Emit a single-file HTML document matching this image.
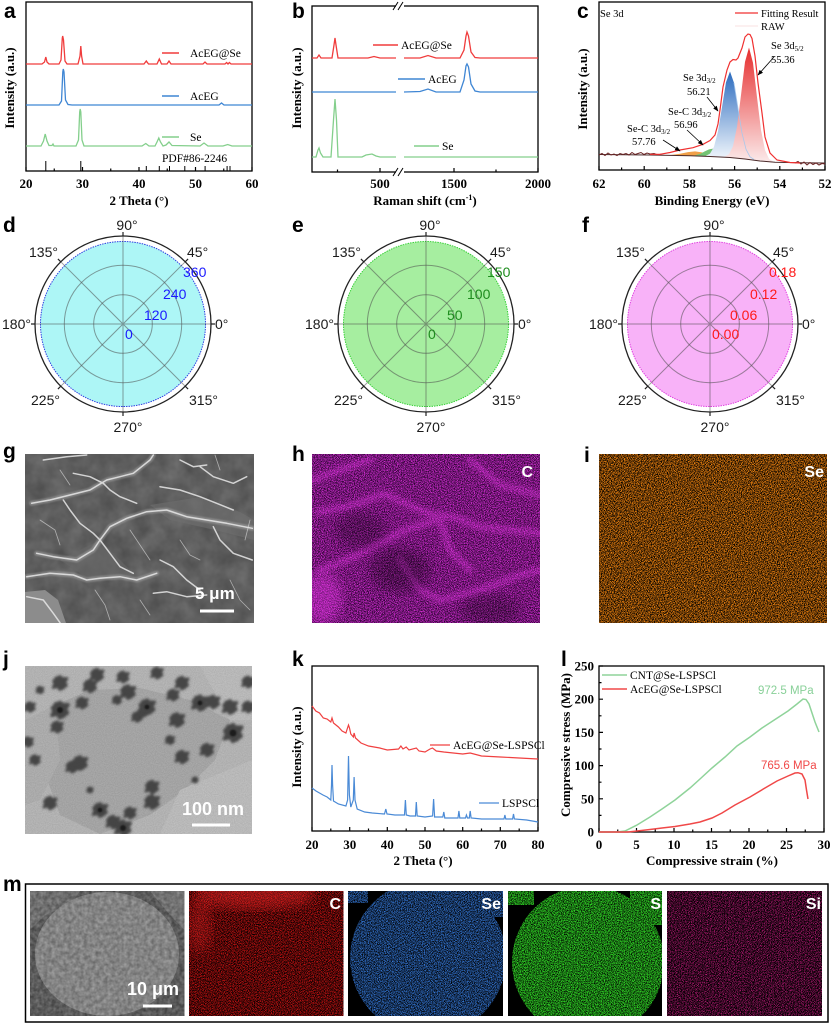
<!DOCTYPE html>
<html><head><meta charset="utf-8"><style>
html,body{margin:0;padding:0;background:#fff}
svg{display:block}
.t{font-family:"Liberation Serif",serif;font-weight:bold;font-size:13px}
.lg{font-family:"Liberation Serif",serif;font-size:11.5px}
.an{font-family:"Liberation Serif",serif;font-size:10.5px}
.p{font-family:"Liberation Sans",sans-serif;font-size:14px;fill:#1a1a1a}
.lab{font-family:"Liberation Sans",sans-serif;font-weight:bold;font-size:21px}
.wl{font-family:"Liberation Sans",sans-serif;font-weight:bold;fill:#fff}
</style></head><body>
<svg width="834" height="1024" viewBox="0 0 834 1024" xmlns="http://www.w3.org/2000/svg" xmlns:xlink="http://www.w3.org/1999/xlink">
<defs>
<filter id="nOr" x="0" y="0" width="1" height="1" color-interpolation-filters="sRGB"><feTurbulence type="fractalNoise" baseFrequency="1.3" numOctaves="1" seed="3"/><feColorMatrix values="0 0 0 0 0.95 0 0 0 0 0.52 0 0 0 0 0.06 5 0 0 0 -2.05"/></filter>
<filter id="nMg" x="0" y="0" width="1" height="1" color-interpolation-filters="sRGB"><feTurbulence type="fractalNoise" baseFrequency="1.3" numOctaves="1" seed="11"/><feColorMatrix values="0 0 0 0 0.85 0 0 0 0 0.18 0 0 0 0 0.85 4.5 0 0 0 -1.85"/></filter>
<filter id="nRd" x="0" y="0" width="1" height="1" color-interpolation-filters="sRGB"><feTurbulence type="fractalNoise" baseFrequency="1.3" numOctaves="1" seed="21"/><feColorMatrix values="0 0 0 0 0.88 0 0 0 0 0.08 0 0 0 0 0.08 4 0 0 0 -1.65"/></filter>
<filter id="nBl" x="0" y="0" width="1" height="1" color-interpolation-filters="sRGB"><feTurbulence type="fractalNoise" baseFrequency="1.3" numOctaves="1" seed="31"/><feColorMatrix values="0 0 0 0 0.22 0 0 0 0 0.5 0 0 0 0 0.9 4 0 0 0 -1.6"/></filter>
<filter id="nGn" x="0" y="0" width="1" height="1" color-interpolation-filters="sRGB"><feTurbulence type="fractalNoise" baseFrequency="1.3" numOctaves="1" seed="41"/><feColorMatrix values="0 0 0 0 0.18 0 0 0 0 0.8 0 0 0 0 0.14 5 0 0 0 -1.9"/></filter>
<filter id="nPk" x="0" y="0" width="1" height="1" color-interpolation-filters="sRGB"><feTurbulence type="fractalNoise" baseFrequency="1.3" numOctaves="1" seed="51"/><feColorMatrix values="0 0 0 0 0.85 0 0 0 0 0.12 0 0 0 0 0.55 4 0 0 0 -1.8"/></filter>
<filter id="nGr1" x="0" y="0" width="1" height="1" color-interpolation-filters="sRGB"><feTurbulence type="fractalNoise" baseFrequency="0.06" numOctaves="3" seed="61"/><feColorMatrix values="1 0 0 0 0 1 0 0 0 0 1 0 0 0 0 0 0 0 0 0.16"/></filter>
<filter id="nGr2" x="0" y="0" width="1" height="1" color-interpolation-filters="sRGB"><feTurbulence type="fractalNoise" baseFrequency="0.9" numOctaves="1" seed="71"/><feColorMatrix values="1 0 0 0 0 1 0 0 0 0 1 0 0 0 0 0 0 0 0 0.2"/></filter>
<filter id="nGr3" x="0" y="0" width="1" height="1" color-interpolation-filters="sRGB"><feTurbulence type="fractalNoise" baseFrequency="0.25" numOctaves="3" seed="81"/><feColorMatrix values="1 0 0 0 0 1 0 0 0 0 1 0 0 0 0 0 0 0 0 0.3"/></filter>
<filter id="bl3"><feGaussianBlur stdDeviation="2.5"/></filter>
<filter id="bl1"><feGaussianBlur stdDeviation="0.7"/></filter>
<filter id="bl15"><feGaussianBlur stdDeviation="1.3"/></filter>
<filter id="bl6"><feGaussianBlur stdDeviation="6"/></filter>
<linearGradient id="gB" x1="0" y1="72" x2="0" y2="158" gradientUnits="userSpaceOnUse"><stop offset="0" stop-color="#2c6cbf"/><stop offset="1" stop-color="#eef4fb"/></linearGradient>
<linearGradient id="gR" x1="0" y1="48" x2="0" y2="160" gradientUnits="userSpaceOnUse"><stop offset="0" stop-color="#e62e2e"/><stop offset="1" stop-color="#fbe6e6"/></linearGradient>
<marker id="ar" viewBox="0 0 10 10" refX="9" refY="5" markerWidth="7" markerHeight="7" orient="auto"><path d="M0,1 L10,5 L0,9 z" fill="#000"/></marker>
<clipPath id="cg"><rect x="25" y="454" width="229" height="169"/></clipPath>
<clipPath id="ch"><rect x="312" y="454" width="228" height="169"/></clipPath>
<clipPath id="cj"><rect x="25" y="666" width="227" height="168"/></clipPath>
<clipPath id="cm1"><rect x="30" y="891" width="154.5" height="125"/></clipPath>
<clipPath id="cm2"><rect x="189" y="891" width="154.5" height="125"/></clipPath>
<clipPath id="cm3"><circle cx="428" cy="958" r="78"/><rect x="470" y="891" width="33" height="26"/><rect x="348" y="891" width="20" height="12"/></clipPath>
<clipPath id="cm4"><circle cx="588" cy="962" r="76"/><rect x="630" y="891" width="32" height="34"/><rect x="508" y="891" width="26" height="14"/></clipPath>
<g id="cl" fill="#3a3a3a"><circle r="4.5"/><circle cx="3.5" cy="-2.5" r="3"/><circle cx="-3.5" cy="2" r="3"/><circle cx="2" cy="3.5" r="2.8"/><circle cx="-2.5" cy="-3.5" r="2.8"/><circle cx="4.8" cy="2" r="2.2"/><circle cx="-4.8" cy="-1.5" r="2.2"/><circle cx="0" cy="-5.2" r="2"/><circle cx="0" cy="5.2" r="2"/><circle cx="6" cy="-4" r="1.5"/><circle cx="-6" cy="4" r="1.5"/></g>
</defs>

<!-- ============ panel a ============ -->
<text class="lab" x="4" y="18">a</text>
<rect x="26" y="2" width="226" height="169" fill="none" stroke="#000" stroke-width="1.3"/>
<path d="M26,171v-4M82.5,171v-4M139,171v-4M195.5,171v-4M252,171v-4M54.25,171v-2.5M110.75,171v-2.5M167.25,171v-2.5M223.75,171v-2.5" stroke="#000" stroke-width="1.2"/>
<path d="M45.8,171v-10M80.8,171v-10M146.3,171v-5M159.3,171v-5M169.5,171v-5M184.8,171v-5M205.1,171v-5M227.1,171v-5M230,171v-5" stroke="#000" stroke-width="1"/>
<path d="M26,64 L42,64 L44.5,62 L45.8,57 L47,62 L49,64 L59,64 L61,60 L62.3,38 L62.7,36 L63.5,40 L65,61 L67,64 L78,64 L80,56 L80.8,46 L81.6,56 L83,64 L144,64 L146.3,61 L148.5,64 L157,64 L159.3,59 L161.5,64 L167,64 L169,61 L171,64 L203,64 L205,62 L207,64 L225,64 L226.6,62.5 L228,64 L229.4,62.5 L231,64 L252,64" fill="none" stroke="#f03c3c" stroke-width="1.3"/>
<path d="M26,105 L59,105 L61.5,101 L62.8,72 L63.3,69 L64,72 L65.5,100 L68,104.5 L72,105 L219,105 L221.5,103 L224,105 L252,105" fill="none" stroke="#3f86d4" stroke-width="1.3"/>
<path d="M26,146 L41,146 L43.5,141 L45.2,134 L47,141 L49,145.5 L52,145.5 L53,144 L54,146 L76,146 L78.5,140 L79.7,112 L80.2,109 L80.8,112 L82,140 L84,146 L142,146 L145.8,143.5 L149,146 L155,146 L157,142 L158.8,138 L160.5,142 L163,146 L166,145 L169,142 L172,145.5 L200,146 L204,143 L208,146 L223,146 L227.7,144.5 L232,146 L252,146" fill="none" stroke="#84cf8c" stroke-width="1.3"/>
<path d="M162,53h17" stroke="#f03c3c" stroke-width="1.5"/><text class="lg" x="190" y="57">AcEG@Se</text>
<path d="M162,96h17" stroke="#3f86d4" stroke-width="1.5"/><text class="lg" x="190" y="100">AcEG</text>
<path d="M162,137h17" stroke="#84cf8c" stroke-width="1.5"/><text class="lg" x="190" y="141">Se</text>
<text class="lg" x="162" y="162">PDF#86-2246</text>
<g class="t" text-anchor="middle"><text x="26" y="188">20</text><text x="82.5" y="188">30</text><text x="139" y="188">40</text><text x="195.5" y="188">50</text><text x="252" y="188">60</text></g>
<text class="t" x="139" y="205" text-anchor="middle">2 Theta (°)</text>
<text class="t" transform="translate(14,88) rotate(-90)" text-anchor="middle">Intensity (a.u.)</text>

<!-- ============ panel b ============ -->
<text class="lab" x="292" y="18">b</text>
<rect x="312" y="6" width="226" height="166" fill="none" stroke="#000" stroke-width="1.3"/>
<rect x="396" y="3" width="8" height="6" fill="#fff"/><rect x="396" y="169" width="8" height="6" fill="#fff"/>
<path d="M393,10 L398,2 M398,10 L403,2 M393,176 L398,168 M398,176 L403,168" stroke="#000" stroke-width="1"/>
<path d="M380,172v-4M454,172v-4M538,172v-4M337.5,172v-2.5M496,172v-2.5" stroke="#000" stroke-width="1.2"/>
<path d="M312,58 L317,58 L319,55 L321,58 L332,58 L334,45 L335,38 L336,45 L338,58 L368,58 L374,56.5 L380,58 L396,58 M404,58 L420,58 L428,55.5 L436,58 L460,58 L464,50 L466,36 L467,32 L468.5,36 L471,52 L475,57.5 L480,58 L538,58" fill="none" stroke="#f03c3c" stroke-width="1.3"/>
<path d="M312,92 L396,92 M404,92 L420,91.5 L428,89 L436,92 L460,92 L464,80 L466,66 L467,64 L468.5,67 L471,84 L475,91 L480,92 L538,92" fill="none" stroke="#3f86d4" stroke-width="1.3"/>
<path d="M312,157 L316,157 L318,150 L319,148 L320.5,153 L323,157 L331,157 L333.5,120 L335,99 L336.5,120 L338,157 L362,157 L366,155 L372,154 L376,156 L380,157 L396,157 M404,157 L538,157" fill="none" stroke="#84cf8c" stroke-width="1.3"/>
<path d="M373,45h25" stroke="#f03c3c" stroke-width="1.5"/><text class="lg" x="401" y="49">AcEG@Se</text>
<path d="M398,79h27" stroke="#3f86d4" stroke-width="1.5"/><text class="lg" x="428" y="83">AcEG</text>
<path d="M414,146h25" stroke="#84cf8c" stroke-width="1.5"/><text class="lg" x="442" y="150">Se</text>
<g class="t" text-anchor="middle"><text x="380" y="188">500</text><text x="454" y="188">1500</text><text x="538" y="188">2000</text></g>
<text class="t" x="425" y="205" text-anchor="middle">Raman shift (cm<tspan font-size="8" dy="-5">-1</tspan><tspan dy="5">)</tspan></text>
<text class="t" transform="translate(301,88) rotate(-90)" text-anchor="middle">Intensity (a.u.)</text>

<!-- ============ panel c ============ -->
<text class="lab" x="577" y="18">c</text>
<rect x="599" y="2" width="226" height="168" fill="none" stroke="#000" stroke-width="1.3"/>
<path d="M599,170v-4M644.2,170v-4M689.4,170v-4M734.6,170v-4M779.8,170v-4M825,170v-4M621.6,170v-2.5M666.8,170v-2.5M712,170v-2.5M757.2,170v-2.5M802.4,170v-2.5" stroke="#000" stroke-width="1.2"/>
<path d="M670,155.1 L680,153.8 L688,152.1 L695,151.4 L702,152.4 L710,154.7 L720,156.7 L720,157 L695,155.9 L670,155.4 Z" fill="#f0a048"/>
<path d="M695,155.3 L700,153.9 L705,151.3 L709,149.4 L713,148.6 L717,149.9 L721,152.2 L726,155.2 L731,157 L731,157.6 L713,156.7 L695,155.9 Z" fill="#74c474"/>
<path d="M706,155.7 L710,153.6 L714,146.8 L718,131.3 L722,107.1 L726,82.3 L730,71.5 L734,82.9 L738,108.3 L742,133.1 L746,149.2 L750,156.8 L754,159.5 L754,160.2 L730,157.5 L706,156.4 Z" fill="url(#gB)"/>
<path d="M725,156.5 L729,154.2 L733,146.3 L737,127 L741,95.1 L745,61.9 L749,47.5 L753,62.9 L757,97.2 L761,130 L765,150.1 L769,158.7 L773,161.5 L773,162.2 L749,159.5 L725,157.2 Z" fill="url(#gR)"/>
<path d="M734,82.9 L738,108.3 L742,133.1 L746,149.2 L750,156.8 L754,159.5" fill="none" stroke="#a8c8ec" stroke-width="0.8"/>
<path d="M599,154.5 L650,155 L690,155.8 L710,156.5 L730,157.5 L745,159 L760,161 L775,162.3 L800,162.8 L825,163" fill="none" stroke="#4a2a2a" stroke-width="1"/>
<path d="M599,155 L602,153.5 L605,155.5 L608,153 L611,155 L614,154 L617,155.5 L620,153.5 L623,154.5 L626,153.5 L629,155 L632,152.5 L635,154.5 L638,153.5 L641,152.5 L644,154.5 L647,153 L650,154 L654,153.5 L658,155 L662,154 M795,163 L798,161.5 L801,164 L804,162 L807,165 L810,162.5 L813,164.5 L816,163 L819,165 L822,163.5 L825,164" fill="none" stroke="#6a2424" stroke-width="1"/>
<path d="M650,154.3 L660,154.3 L670,152.5 L680,150 L693,147.7 L703,144.3 L710,140.5 L715,135 L718,124 L720,110 L723,87 L727,70 L730,62 L733,59.5 L736,60 L738,58 L742,48 L745,37 L748,34 L750,34.5 L752,38.5 L755,56 L758,83 L762,113 L765,137 L770,153 L777,160 L790,162.5 L800,163" fill="none" stroke="#f03030" stroke-width="1.2"/>
<text class="an" x="600" y="17">Se 3d</text>
<path d="M735,13h23" stroke="#f03030" stroke-width="1.2"/><text class="an" x="761" y="17">Fitting Result</text>
<path d="M735,26h23" stroke="#f6c4c4" stroke-width="0.6"/><text class="an" x="761" y="30">RAW</text>
<g fill="none" stroke="#000" stroke-width="0.8" marker-end="url(#ar)">
<path d="M774,57 L758,75"/><path d="M707,97 L718,111"/><path d="M687,130 L703,145"/><path d="M663,140 L680,151"/></g>
<text class="an" x="771" y="49">Se 3d<tspan font-size="7" dy="2">5/2</tspan></text><text class="an" x="771" y="63">55.36</text>
<text class="an" x="683" y="81">Se 3d<tspan font-size="7" dy="2">3/2</tspan></text><text class="an" x="687" y="95">56.21</text>
<text class="an" x="668" y="115">Se-C 3d<tspan font-size="7" dy="2">3/2</tspan></text><text class="an" x="674" y="128">56.96</text>
<text class="an" x="627" y="132">Se-C 3d<tspan font-size="7" dy="2">3/2</tspan></text><text class="an" x="632" y="145">57.76</text>
<g class="t" text-anchor="middle"><text x="599" y="188">62</text><text x="644.2" y="188">60</text><text x="689.4" y="188">58</text><text x="734.6" y="188">56</text><text x="779.8" y="188">54</text><text x="825" y="188">52</text></g>
<text class="t" x="712" y="205" text-anchor="middle">Binding Energy (eV)</text>
<text class="t" transform="translate(587,89) rotate(-90)" text-anchor="middle">Intensity (a.u.)</text>

<!-- ============ polar d ============ -->
<text class="lab" x="3" y="232">d</text>
<circle cx="123" cy="324" r="82.5" fill="#adf6f6" stroke="#2d40e0" stroke-width="1" stroke-dasharray="1.5 1"/>
<g stroke="#4d4d4d" stroke-opacity=".55" stroke-width="1" fill="none"><circle cx="123" cy="324" r="29.3"/><circle cx="123" cy="324" r="58.7"/><path d="M35,324H211M123,236V412M60.8,261.8L185.2,386.2M60.8,386.2L185.2,261.8"/></g>
<circle cx="123" cy="324" r="88" fill="none" stroke="#222" stroke-width="1.3"/>
<path d="M211,324h4M35,324h-4M123,236v-4M123,412v4M185.2,261.8l2.9,-2.9M60.8,261.8l-2.9,-2.9M60.8,386.2l-2.9,2.9M185.2,386.2l2.9,2.9" stroke="#222" stroke-width="1.2"/>
<g class="p"><text x="127" y="230" text-anchor="middle">90°</text><text x="128" y="432" text-anchor="middle">270°</text><text x="215" y="329">0°</text><text x="2" y="329">180°</text><text x="187" y="257">45°</text><text x="29" y="257">135°</text><text x="31" y="405">225°</text><text x="189" y="405">315°</text></g>
<g class="p" style="fill:#1a1aff"><text x="125" y="339">0</text><text x="144" y="320">120</text><text x="163" y="299">240</text><text x="183" y="277">360</text></g>

<!-- ============ polar e ============ -->
<text class="lab" x="292" y="232">e</text>
<circle cx="426" cy="324" r="82.5" fill="#a6eea0" stroke="#36d036" stroke-width="1" stroke-dasharray="1.5 1"/>
<g stroke="#4d4d4d" stroke-opacity=".55" stroke-width="1" fill="none"><circle cx="426" cy="324" r="29.3"/><circle cx="426" cy="324" r="58.7"/><path d="M338,324H514M426,236V412M363.8,261.8L488.2,386.2M363.8,386.2L488.2,261.8"/></g>
<circle cx="426" cy="324" r="88" fill="none" stroke="#222" stroke-width="1.3"/>
<path d="M514,324h4M338,324h-4M426,236v-4M426,412v4M488.2,261.8l2.9,-2.9M363.8,261.8l-2.9,-2.9M363.8,386.2l-2.9,2.9M488.2,386.2l2.9,2.9" stroke="#222" stroke-width="1.2"/>
<g class="p"><text x="430" y="230" text-anchor="middle">90°</text><text x="431" y="432" text-anchor="middle">270°</text><text x="518" y="329">0°</text><text x="305" y="329">180°</text><text x="490" y="257">45°</text><text x="332" y="257">135°</text><text x="334" y="405">225°</text><text x="492" y="405">315°</text></g>
<g class="p" style="fill:#1e8c1e"><text x="428" y="339">0</text><text x="447" y="320">50</text><text x="467" y="299">100</text><text x="487" y="277">150</text></g>

<!-- ============ polar f ============ -->
<text class="lab" x="582" y="232">f</text>
<circle cx="710" cy="324" r="82.5" fill="#f8b2f8" stroke="#e040e0" stroke-width="1" stroke-dasharray="1.5 1"/>
<g stroke="#4d4d4d" stroke-opacity=".55" stroke-width="1" fill="none"><circle cx="710" cy="324" r="29.3"/><circle cx="710" cy="324" r="58.7"/><path d="M622,324H798M710,236V412M647.8,261.8L772.2,386.2M647.8,386.2L772.2,261.8"/></g>
<circle cx="710" cy="324" r="88" fill="none" stroke="#222" stroke-width="1.3"/>
<path d="M798,324h4M622,324h-4M710,236v-4M710,412v4M772.2,261.8l2.9,-2.9M647.8,261.8l-2.9,-2.9M647.8,386.2l-2.9,2.9M772.2,386.2l2.9,2.9" stroke="#222" stroke-width="1.2"/>
<g class="p"><text x="714" y="230" text-anchor="middle">90°</text><text x="715" y="432" text-anchor="middle">270°</text><text x="802" y="329">0°</text><text x="589" y="329">180°</text><text x="773" y="257">45°</text><text x="616" y="257">135°</text><text x="618" y="405">225°</text><text x="776" y="405">315°</text></g>
<g class="p" style="fill:#ff1a1a"><text x="712" y="339">0.00</text><text x="730" y="320">0.06</text><text x="750" y="299">0.12</text><text x="769" y="277">0.18</text></g>

<!-- ============ g SEM ============ -->
<text class="lab" x="3" y="458">g</text>
<g clip-path="url(#cg)">
<rect x="25" y="454" width="229" height="169" fill="#585858"/>
<rect x="25" y="454" width="229" height="169" filter="url(#nGr1)"/>
<path d="M25,592 L45,590 L58,600 L66,623 L25,623 Z" fill="#8c8c8c"/>
<path d="M150,505 L200,497 L240,512 L254,520 L254,540 L215,530 L170,520 Z" fill="#707070" opacity=".6"/>
<path d="M60,560 L100,540 L135,575 L90,580 Z" fill="#686868" opacity=".6"/>
<g fill="none" stroke="#e8e8e8" stroke-linejoin="round" stroke-linecap="round">
<g stroke-width="5" opacity=".25" filter="url(#bl1)">
<path d="M31.7,503.3 L50,500 L70,495 L90,490 L106.7,480 L120,476.7 L133.3,473.3 L150,460 L153.3,455"/>
<path d="M36.7,553.3 L53.3,556.7 L76.7,560 L93.3,550 L100,540 L110,526.7 L126.7,518.3 L146.7,511.7 L166.7,510 L186.7,516.7 L206.7,520 L226.7,523.3 L252.3,528.3"/>
<path d="M26.7,576.7 L50,573.3 L73.3,575 L86.7,580 L100,578.3 L120,576.7 L136.7,580 L156.7,573.3"/>
</g>
<g stroke-width="1.5" opacity=".85">
<path d="M31.7,503.3 L50,500 L70,495 L90,490 L106.7,480 L120,476.7 L133.3,473.3 L150,460 L153.3,455"/>
<path d="M36.7,553.3 L53.3,556.7 L76.7,560 L93.3,550 L100,540 L110,526.7 L126.7,518.3 L146.7,511.7 L166.7,510 L186.7,516.7 L206.7,520 L226.7,523.3 L252.3,528.3"/>
<path d="M26.7,576.7 L50,573.3 L73.3,575 L86.7,580 L100,578.3 L120,576.7 L136.7,580 L156.7,573.3"/>
<path d="M73.3,473.3 L90,476.7 L103.3,483.3 L110,490 L120,496.7 L136.7,503.3"/>
<path d="M160,486.7 L180,490 L200,496.7 L216.7,503.3 L233.3,510"/>
<path d="M63.3,500 L70,510 L80,523.3 L93.3,533.3 L100,540"/>
<path d="M100,540 L110,553.3 L120,566.7 L133.3,573.3"/>
<path d="M213.3,526.7 L220,540 L233.3,553.3 L252.3,560"/>
<path d="M160,560 L173.3,566.7 L186.7,580 L200,590"/>
<path d="M26.7,596.7 L43.3,600 L53.3,613.3 L60,622.7"/>
<path d="M200,466.7 L213.3,476.7 L233.3,483.3 L246.7,476.7"/>
<path d="M153.3,593.3 L166.7,591.7 L186.7,596.7 L206.7,595"/>
<path d="M43.3,460 L66.7,456.7 L86.7,455"/>
<path d="M180,460 L193.3,466.7 L206.7,465"/>
</g>
<g stroke-width="0.8" opacity=".6">
<path d="M40,520 L55,530 L60,545 M130,530 L140,545 L150,560 M180,540 L190,555 L200,560 M230,580 L240,600 L250,610 M95,590 L105,605 L110,620 M140,600 L150,615 M60,470 L70,485 M215,455 L220,470 M245,540 L250,520"/>
</g></g>
</g>
<text class="wl" x="195" y="599" font-size="17">5 μm</text>
<rect x="200" y="609.5" width="34" height="3" fill="#fff"/>

<!-- ============ h C map ============ -->
<text class="lab" x="292" y="461">h</text>
<g clip-path="url(#ch)">
<rect x="312" y="454" width="228" height="169" fill="#2a0530"/>
<rect x="312" y="454" width="228" height="169" filter="url(#nMg)"/>
<g fill="none" stroke="#ff40ff" stroke-width="7" opacity=".3" filter="url(#bl3)" stroke-linecap="round">
<path d="M318,512 L347,507 L384,494 L427,513 L453,517 L480,527 L540,533"/>
<path d="M320,570 L347,560 L373,547 L405,530 L437,520"/>
<path d="M400,560 L420,590 L440,600 L480,590 L520,575 L540,570"/>
<path d="M470,460 L500,485 L540,495"/>
<path d="M312,480 L340,470 L370,460"/>
<path d="M440,520 L450,550 L470,570"/>
</g>
<ellipse cx="322" cy="598" rx="20" ry="26" fill="#ff40ff" opacity=".35" filter="url(#bl6)"/>
<ellipse cx="400" cy="570" rx="30" ry="22" fill="#000" opacity=".3" filter="url(#bl6)"/>
<ellipse cx="360" cy="530" rx="25" ry="18" fill="#000" opacity=".25" filter="url(#bl6)"/>
<ellipse cx="490" cy="610" rx="30" ry="15" fill="#000" opacity=".25" filter="url(#bl6)"/>
</g>
<text class="wl" x="533" y="477" font-size="16" text-anchor="end">C</text>

<!-- ============ i Se map ============ -->
<text class="lab" x="584" y="462">i</text>
<rect x="599" y="454" width="228" height="169" fill="#000"/>
<rect x="599" y="454" width="228" height="169" filter="url(#nOr)"/>
<text class="wl" x="824" y="477" font-size="16" text-anchor="end">Se</text>

<!-- ============ j TEM ============ -->
<text class="lab" x="3" y="666">j</text>
<g clip-path="url(#cj)">
<rect x="25" y="666" width="227" height="168" fill="#b8b8b8"/>
<path d="M55,705 L90,690 L140,688 L190,700 L230,720 L215,760 L185,790 L150,815 L100,834 L60,815 L40,760 Z" fill="#a8a8a8"/>
<path d="M25,720 L55,705 L60,760 L40,800 L25,805 Z" fill="#b0b0b0"/>
<path d="M200,666 L252,666 L252,720 L230,720 Z" fill="#bfbfbf"/>
<path d="M180,790 L252,760 L252,834 L160,834 Z" fill="#c0c0c0"/>
<rect x="25" y="666" width="227" height="168" filter="url(#nGr2)" opacity=".6"/>
<g filter="url(#bl15)" opacity=".9">
<use xlink:href="#cl" transform="translate(60,683) scale(1.1)"/><use xlink:href="#cl" transform="translate(60,710) scale(1.3)"/><use xlink:href="#cl" transform="translate(97,675) scale(1)"/><use xlink:href="#cl" transform="translate(90,686) scale(1)"/><use xlink:href="#cl" transform="translate(82,703) scale(0.9)"/><use xlink:href="#cl" transform="translate(123,677) scale(0.9)"/><use xlink:href="#cl" transform="translate(128,692) scale(1.1)"/><use xlink:href="#cl" transform="translate(147,707) scale(1.2)"/><use xlink:href="#cl" transform="translate(157,673) scale(0.9)"/><use xlink:href="#cl" transform="translate(182,683) scale(1)"/><use xlink:href="#cl" transform="translate(173,695) scale(0.9)"/><use xlink:href="#cl" transform="translate(177,720) scale(1.1)"/><use xlink:href="#cl" transform="translate(182,757) scale(1)"/><use xlink:href="#cl" transform="translate(200,703) scale(1.2)"/><use xlink:href="#cl" transform="translate(213,702) scale(1)"/><use xlink:href="#cl" transform="translate(230,707) scale(1.1)"/><use xlink:href="#cl" transform="translate(233,733) scale(1.4)"/><use xlink:href="#cl" transform="translate(248,682) scale(0.9)"/><use xlink:href="#cl" transform="translate(248,707) scale(0.9)"/><use xlink:href="#cl" transform="translate(207,750) scale(1)"/><use xlink:href="#cl" transform="translate(80,763) scale(1.1)"/><use xlink:href="#cl" transform="translate(72,767) scale(0.9)"/><use xlink:href="#cl" transform="translate(50,803) scale(1)"/><use xlink:href="#cl" transform="translate(100,810) scale(1.1)"/><use xlink:href="#cl" transform="translate(113,822) scale(1)"/><use xlink:href="#cl" transform="translate(123,828) scale(1.2)"/><use xlink:href="#cl" transform="translate(130,813) scale(0.9)"/><use xlink:href="#cl" transform="translate(152,787) scale(1)"/><use xlink:href="#cl" transform="translate(152,802) scale(1.1)"/><use xlink:href="#cl" transform="translate(35,760) scale(0.8)"/><use xlink:href="#cl" transform="translate(28,742) scale(0.8)"/><use xlink:href="#cl" transform="translate(30,707) scale(0.8)"/><use xlink:href="#cl" transform="translate(57,727) scale(0.9)"/><use xlink:href="#cl" transform="translate(117,700) scale(0.7)"/><use xlink:href="#cl" transform="translate(137,717) scale(0.8)"/><use xlink:href="#cl" transform="translate(143,712) scale(0.8)"/><use xlink:href="#cl" transform="translate(170,740) scale(0.7)"/><use xlink:href="#cl" transform="translate(40,690) scale(0.6)"/><use xlink:href="#cl" transform="translate(195,780) scale(0.5)"/><use xlink:href="#cl" transform="translate(90,790) scale(0.5)"/>
</g>
<g fill="#1e1e1e" filter="url(#bl1)">
<circle cx="60" cy="710" r="3"/><circle cx="233" cy="733" r="3.5"/><circle cx="147" cy="707" r="2.5"/><circle cx="123" cy="828" r="3"/><circle cx="200" cy="703" r="2.5"/><circle cx="100" cy="810" r="2.5"/>
</g>
</g>
<text class="wl" x="182" y="815" font-size="18">100 nm</text>
<rect x="192" y="823.5" width="38" height="3" fill="#fff"/>

<!-- ============ k ============ -->
<text class="lab" x="292" y="666">k</text>
<rect x="312" y="666" width="226" height="165" fill="none" stroke="#000" stroke-width="1.3"/>
<path d="M312,831v-4M349.7,831v-4M387.3,831v-4M425,831v-4M462.7,831v-4M500.3,831v-4M538,831v-4M330.8,831v-2.5M368.5,831v-2.5M406.2,831v-2.5M443.8,831v-2.5M481.5,831v-2.5M519.2,831v-2.5" stroke="#000" stroke-width="1.2"/>
<path d="M312,706 L315.8,711 L319.5,713 L323.3,718 L327.1,719 L330.8,722 L332,718 L333.5,723 L338.4,727 L342.1,731 L345.9,733 L347.5,728 L348.5,725 L349.5,728 L350.8,734 L353.4,737 L354.1,733 L355.5,738 L361,743 L368.5,746 L379.8,748 L387.3,750 L398.6,749 L400.9,746 L403,749 L406.2,747 L409,750 L416.3,748 L419,751 L425,752 L430,749 L432.5,748 L436.3,751 L443.8,752 L462.7,754 L470.2,753 L481.5,756 L500.4,757 L519.2,758 L538,759" fill="none" stroke="#f04040" stroke-width="1.2"/>
<path d="M312,788 L316,791 L319.5,793 L323,795 L327.1,797 L330.8,800 L331.5,785 L332,765 L332.6,785 L333.5,801 L338.4,804 L345.9,806 L347.6,800 L348.5,756 L349.4,795 L350.8,807 L353.3,800 L354.1,777 L355,800 L357.2,809 L364.7,812 L372.3,813 L384.5,814 L385.8,809 L387,814 L394.9,815 L404.5,815 L405.4,800 L406.3,815 L410,816 L415.5,816 L416.3,802 L417.2,816 L425,817 L432.6,816 L433.6,799 L434.6,817 L442.8,817 L443.8,812 L444.8,818 L458,818 L458.9,811 L459.8,818 L465.5,818 L466.4,815 L467.5,818 L469.3,818 L470.2,811 L471.1,818 L481.5,819 L504,819 L504.9,815 L505.8,819 L512.6,819 L513.5,814 L514.4,819 L526.7,820 L538,822" fill="none" stroke="#4a8ad6" stroke-width="1.2"/>
<path d="M430,745h20" stroke="#f04040" stroke-width="1.3"/><text class="lg" x="453" y="749" font-size="10.5">AcEG@Se-LSPSCl</text>
<path d="M479,803h20" stroke="#4a8ad6" stroke-width="1.3"/><text class="lg" x="502" y="807" font-size="10.5">LSPSCl</text>
<g class="t" text-anchor="middle"><text x="312" y="849">20</text><text x="349.7" y="849">30</text><text x="387.3" y="849">40</text><text x="425" y="849">50</text><text x="462.7" y="849">60</text><text x="500.3" y="849">70</text><text x="538" y="849">80</text></g>
<text class="t" x="423" y="865" text-anchor="middle">2 Theta (°)</text>
<text class="t" transform="translate(301,747) rotate(-90)" text-anchor="middle">Intensity (a.u.)</text>

<!-- ============ l ============ -->
<text class="lab" x="561" y="666">l</text>
<rect x="599" y="666" width="225" height="166" fill="none" stroke="#000" stroke-width="1.3"/>
<path d="M599,832v-4M636.5,832v-4M674,832v-4M711.5,832v-4M749,832v-4M786.5,832v-4M824,832v-4M617.75,832v-2.5M655.25,832v-2.5M692.75,832v-2.5M730.25,832v-2.5M767.75,832v-2.5M805.25,832v-2.5M599,798.8h4M599,765.6h4M599,732.4h4M599,699.2h4M599,666h4M599,815.4h2.5M599,782.2h2.5M599,749h2.5M599,715.8h2.5M599,682.6h2.5" stroke="#000" stroke-width="1.2"/>
<path d="M599,832 L617,832 L625,831 L637,825 L650,817 L662,809 L675,800 L690,788 L700,779 L712,768 L725,757 L737,746 L750,737 L762,728 L775,719.5 L788,711 L797,704 L803,699 L806,699.5 L809,704 L812,713 L815,722 L819,732" fill="none" stroke="#8fd39a" stroke-width="1.5"/>
<path d="M599,832 L628,832 L637,831 L650,829.5 L662,828 L675,826.5 L690,824 L700,822 L712,818 L722,813 L735,805 L750,797 L765,788 L777,781 L788,776 L795,773 L798,772.7 L802,774 L805,780 L806.5,790 L808,799" fill="none" stroke="#f04848" stroke-width="1.5"/>
<path d="M602,675h25" stroke="#8fd39a" stroke-width="1.5"/><text class="lg" x="630" y="679">CNT@Se-LSPSCl</text>
<path d="M602,689h25" stroke="#f04848" stroke-width="1.5"/><text class="lg" x="630" y="693">AcEG@Se-LSPSCl</text>
<text x="758" y="694" font-family="Liberation Sans, sans-serif" font-size="11.5" fill="#88d098">972.5 MPa</text>
<text x="761" y="769" font-family="Liberation Sans, sans-serif" font-size="11.5" fill="#f04848">765.6 MPa</text>
<g class="t" text-anchor="end"><text x="594" y="836.5">0</text><text x="594" y="803.3">50</text><text x="594" y="770">100</text><text x="594" y="736.9">150</text><text x="594" y="703.7">200</text><text x="594" y="670.5">250</text></g>
<g class="t" text-anchor="middle"><text x="599" y="849">0</text><text x="636.5" y="849">5</text><text x="674" y="849">10</text><text x="711.5" y="849">15</text><text x="749" y="849">20</text><text x="786.5" y="849">25</text><text x="824" y="849">30</text></g>
<text class="t" x="712" y="865" text-anchor="middle">Compressive strain (%)</text>
<text class="t" transform="translate(570,745) rotate(-90)" text-anchor="middle">Compressive stress (MPa)</text>

<!-- ============ m ============ -->
<text class="lab" x="3" y="891">m</text>
<rect x="25.5" y="884" width="802.5" height="138" fill="none" stroke="#000" stroke-width="1.5"/>
<!-- m1 SEM -->
<g clip-path="url(#cm1)">
<rect x="30" y="891" width="154.5" height="125" fill="#4a4a4a"/>
<path d="M30,891 L80,891 L70,905 L45,915 L30,930 Z" fill="#686868"/>
<path d="M150,891 L184.5,891 L184.5,930 L170,915 Z" fill="#6c6c6c"/>
<ellipse cx="107" cy="954" rx="72" ry="62" fill="#858585"/>
<rect x="30" y="891" width="154.5" height="125" filter="url(#nGr3)"/>
</g>
<text class="wl" x="127" y="995" font-size="18">10 μm</text>
<rect x="143" y="1004.5" width="29" height="3" fill="#fff"/>
<!-- m2 C -->
<g clip-path="url(#cm2)">
<rect x="189" y="891" width="154.5" height="125" fill="#000"/>
<rect x="189" y="891" width="154.5" height="125" filter="url(#nRd)"/>
<ellipse cx="255" cy="895" rx="60" ry="14" fill="#ff2a2a" opacity=".4" filter="url(#bl6)"/>
<ellipse cx="200" cy="925" rx="12" ry="28" fill="#ff2a2a" opacity=".25" filter="url(#bl6)"/>
</g>
<text class="wl" x="341" y="909" font-size="16" text-anchor="end">C</text>
<!-- m3 Se -->
<rect x="348" y="891" width="155" height="125" fill="#000"/>
<rect x="348" y="891" width="155" height="125" filter="url(#nBl)" clip-path="url(#cm3)"/>
<text class="wl" x="501" y="909" font-size="16" text-anchor="end">Se</text>
<!-- m4 S -->
<rect x="508" y="891" width="154" height="125" fill="#000"/>
<rect x="508" y="891" width="154" height="125" filter="url(#nGn)" clip-path="url(#cm4)"/>
<text class="wl" x="661" y="909" font-size="16" text-anchor="end">S</text>
<!-- m5 Si -->
<rect x="667" y="891" width="155" height="125" fill="#000"/>
<rect x="667" y="891" width="155" height="125" filter="url(#nPk)"/>
<text class="wl" x="821" y="909" font-size="16" text-anchor="end">Si</text>
</svg>
</body></html>
